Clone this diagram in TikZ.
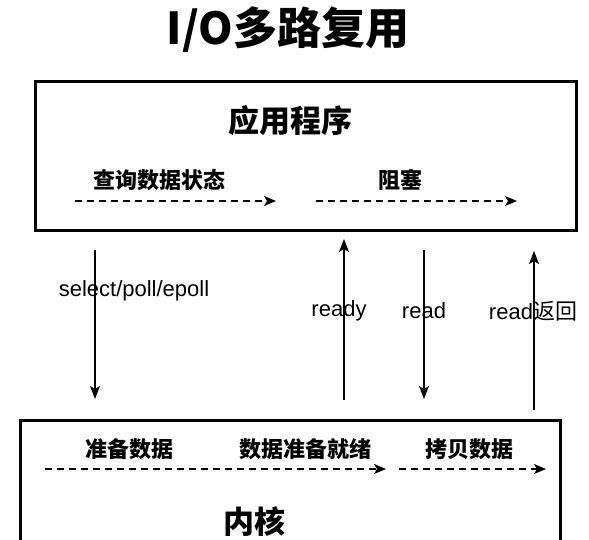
\documentclass[tikz,border=0pt]{standalone}
\usepackage{fontspec}
\setmainfont{Liberation Sans}
\newfontfamily\cjk{Noto Sans CJK SC}
\usetikzlibrary{arrows.meta}

\begin{document}
\begin{tikzpicture}[x=1pt,y=-1pt,
  box/.style={draw,line width=3pt,inner sep=0pt},
  flow/.style={line width=1.3pt,dash pattern=on 7pt off 5pt,-{Stealth[length=12pt,width=10pt,inset=3pt]}},
  call/.style={line width=1.3pt,-{Stealth[length=13pt,width=10pt,inset=3pt]}},
  stage/.style={font=\cjk\bfseries\fontsize{22pt}{26pt}\selectfont},
  sys/.style={font=\fontsize{22pt}{26pt}\selectfont}]

\clip (0,0) rectangle (589,539);

\node[font=\cjk\bfseries\fontsize{44pt}{48pt}\selectfont] (title) at (288,30) {I/O多路复用};

% application box
\node[box,minimum width=541pt,minimum height=149pt] (app) at (305.5,155.5) {};
\node[font=\cjk\bfseries\fontsize{31pt}{34pt}\selectfont] (appname) at (290,121) {应用程序};
\node[stage] (query) at (159,180) {查询数据状态};
\node[stage] (block) at (400,180) {阻塞};
\coordinate (q0) at (75,201);
\coordinate (q1) at (276,201);
\coordinate (b0) at (316,201);
\coordinate (b1) at (517,201);
\draw[flow] (q0) -- (q1);
\draw[flow] (b0) -- (b1);

% kernel box
\node[box,minimum width=540pt,minimum height=200pt] (kernel) at (290,520) {};
\node[stage] (prep) at (129,449) {准备数据};
\node[stage] (ready) at (305,449) {数据准备就绪};
\node[stage] (copy) at (469,449) {拷贝数据};
\node[font=\cjk\bfseries\fontsize{31pt}{34pt}\selectfont] (kname) at (254,522) {内核};
\coordinate (p0) at (45,469);
\coordinate (p1) at (386,469);
\coordinate (c0) at (399,469);
\coordinate (c1) at (546,469);
\draw[flow] (p0) -- (p1);
\draw[flow] (c0) -- (c1);

% calls between the two
\coordinate (s0) at (95,250);
\coordinate (s1) at (95,399);
\coordinate (r0) at (344,400);
\coordinate (r1) at (344,239);
\coordinate (d0) at (424,250);
\coordinate (d1) at (424,399);
\coordinate (e0) at (534,410);
\coordinate (e1) at (534,251);
\draw[call] (s0) -- (s1);
\draw[call] (r0) -- (r1);
\draw[call] (d0) -- (d1);
\draw[call] (e0) -- (e1);
\node[sys] (sel) at (134,291) {select/poll/epoll};
\node[sys] (rdy) at (339,311) {ready};
\node[sys] (rd) at (424,311) {read};
\node[sys] (rdret) at (533,311) {read{\cjk 返回}};

\end{tikzpicture}
\end{document}
